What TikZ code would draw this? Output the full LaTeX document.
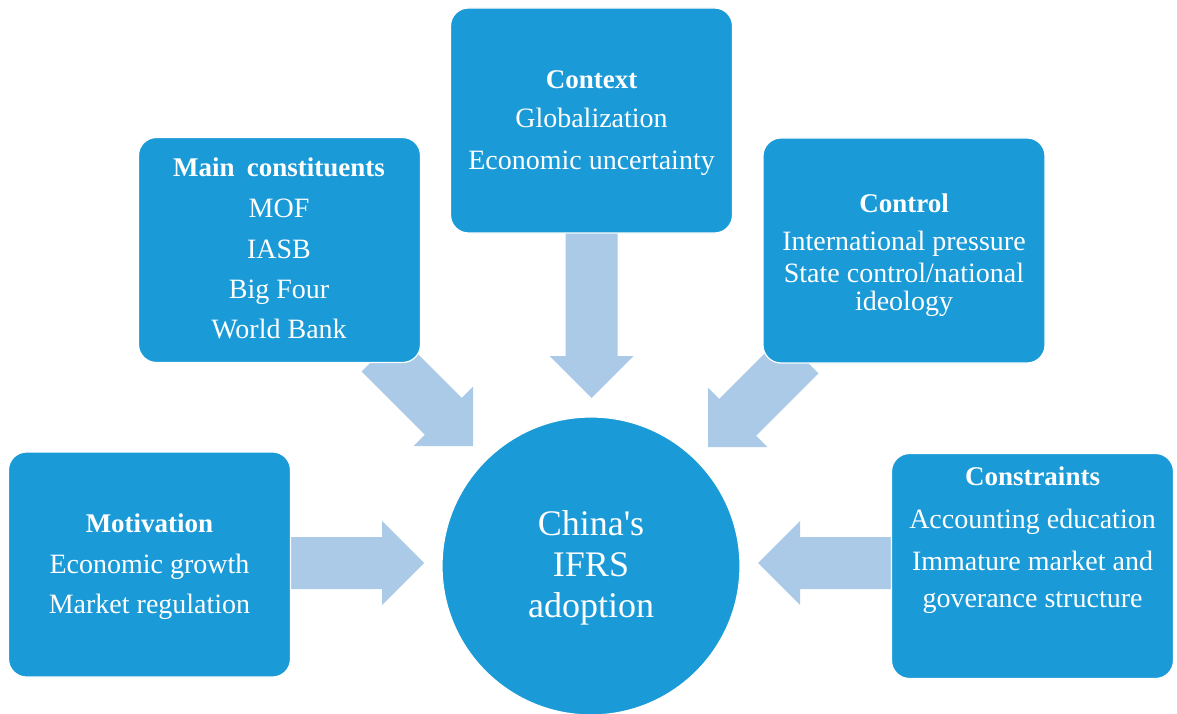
\documentclass[tikz,border=0pt]{standalone}
\usepackage{fontspec}
\setmainfont{Liberation Serif}[Ligatures=TeXOff]
\usetikzlibrary{calc}
\definecolor{boxblue}{RGB}{26,154,215}
\definecolor{arrowblue}{RGB}{170,202,232}
\newcommand{\blockarrow}[2]{%
  \fill[arrowblue]
    ($(#1)!26pt!90:(#2)$) --
    ($($(#2)!42pt!(#1)$)!26pt!-90:(#1)$) --
    ($($(#2)!42pt!(#1)$)!42pt!-90:(#1)$) --
    (#2) --
    ($($(#2)!42pt!(#1)$)!42pt!90:(#1)$) --
    ($($(#2)!42pt!(#1)$)!26pt!90:(#1)$) --
    ($(#1)!26pt!-90:(#2)$) -- cycle;}
\begin{document}
\begin{tikzpicture}[x=1pt,y=-1pt,
  box/.style={draw=white, line width=1.2pt, fill=boxblue, rounded corners=18pt,
    minimum width=282pt, minimum height=225pt, inner sep=0pt},
  hub/.style={circle, draw=white, line width=1.2pt, fill=boxblue, minimum size=298pt, inner sep=0pt},
  ttl/.style={anchor=base, text=white, inner sep=0pt, font=\bfseries\fontsize{27}{32}\selectfont},
  txt/.style={anchor=base, text=white, inner sep=0pt, font=\fontsize{28}{32}\selectfont},
  big/.style={anchor=base, text=white, inner sep=0pt, font=\fontsize{36}{40}\selectfont}]
\fill[white] (0,0) rectangle (1177,714);
\useasboundingbox (0,0) rectangle (1177,714);

% arrow end points
\coordinate (a1t) at (380,353);  \coordinate (a1p) at (473,446);
\coordinate (a2t) at (591.5,225); \coordinate (a2p) at (591.5,398);
\coordinate (a3t) at (800,355);  \coordinate (a3p) at (708,447);
\coordinate (a4t) at (280,563);  \coordinate (a4p) at (424,563);
\coordinate (a5t) at (905,563);  \coordinate (a5p) at (758,563);
\blockarrow{a1t}{a1p}
\blockarrow{a2t}{a2p}
\blockarrow{a3t}{a3p}
\blockarrow{a4t}{a4p}
\blockarrow{a5t}{a5p}

% boxes
\node[box] (mc) at (279.5,250) {};
\node[box] (ctx) at (591.5,120.5) {};
\node[box] (ctl) at (904,250.5) {};
\node[box] (mot) at (149.5,564.5) {};
\node[box] (con) at (1032.5,566) {};
\node[hub] (hub) at (591,566) {};

% Main constituents
\node[ttl] (mc0) at (279,177) {Main\hspace{0.45em}constituents};
\node[txt] (mc1) at (279,218) {MOF};
\node[txt] (mc2) at (279,258) {IASB};
\node[txt] (mc3) at (279,298) {Big Four};
\node[txt] (mc4) at (279,338) {World Bank};

% Context
\node[ttl] (ctx0) at (591.5,89) {Context};
\node[txt] (ctx1) at (591.5,128) {Globalization};
\node[txt] (ctx2) at (591.5,170) {Economic uncertainty};

% Control
\node[ttl] (ctl0) at (904,212) {Control};
\node[txt] (ctl1) at (904,250) {International pressure};
\node[txt] (ctl2) at (904,282) {State control/national};
\node[txt] (ctl3) at (904,310) {ideology};

% Motivation
\node[ttl] (mot0) at (149.5,532) {Motivation};
\node[txt] (mot1) at (149.5,573) {Economic growth};
\node[txt] (mot2) at (149.5,613) {Market regulation};

% Constraints
\node[ttl] (con0) at (1032.5,485) {Constraints};
\node[txt] (con1) at (1032.5,528) {Accounting education};
\node[txt] (con2) at (1032.5,570) {Immature market and};
\node[txt] (con3) at (1032.5,607) {goverance structure};

% hub text
\node[big] (hub0) at (591,535) {China's};
\node[big] (hub1) at (591,576) {IFRS};
\node[big] (hub2) at (591,617) {adoption};
\end{tikzpicture}
\end{document}
